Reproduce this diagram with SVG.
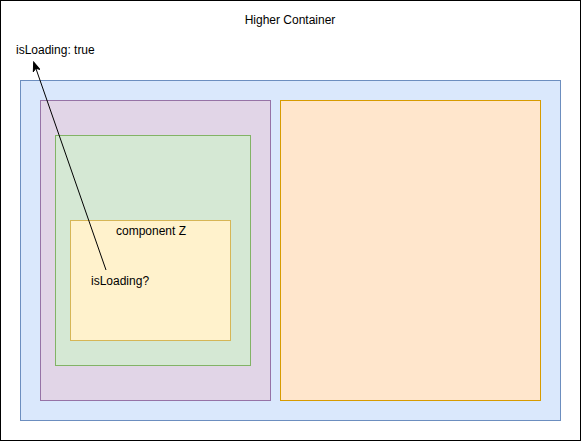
<svg xmlns="http://www.w3.org/2000/svg" width="581" height="441" viewBox="0 0 581 441">
<style>
text{font-family:"Liberation Sans",Arial,sans-serif;font-size:12px;fill:#000}
.c{text-anchor:middle}
</style>
<defs>
<marker id="ah" markerWidth="10" markerHeight="10" refX="8" refY="5" orient="auto" markerUnits="userSpaceOnUse">
<path d="M0,1.5 L9,5 L0,8.5 L2.5,5 Z" fill="#000" stroke="#000" stroke-width="1"/>
</marker>
</defs>
<g id="higher-container">
<rect x="0.5" y="0.5" width="580" height="440" fill="#fff" stroke="#000"/>
<text class="c" x="290" y="24">Higher Container</text>
</g>
<g id="label-true"><text x="16" y="54">isLoading: true</text></g>
<g id="blue"><rect x="20.5" y="80.5" width="540" height="340" fill="#dae8fc" stroke="#6c8ebf"/></g>
<g id="purple"><rect x="40.5" y="100.5" width="230" height="300" fill="#e1d5e7" stroke="#9673a6"/></g>
<g id="green"><rect x="55.5" y="135.5" width="195" height="230" fill="#d5e8d4" stroke="#82b366"/></g>
<g id="componentZ">
<rect x="70.5" y="220.5" width="160" height="120" fill="#fff2cc" stroke="#d6b656"/>
<text class="c" x="151" y="235">component Z</text>
<text x="91" y="285">isLoading?</text>
</g>
<g id="orange"><rect x="280.5" y="100.5" width="260" height="300" fill="#ffe6cc" stroke="#d79b00"/></g>
<g id="connectors">
<line x1="106" y1="270" x2="34" y2="63" stroke="#000" marker-end="url(#ah)"/>
</g>
</svg>
